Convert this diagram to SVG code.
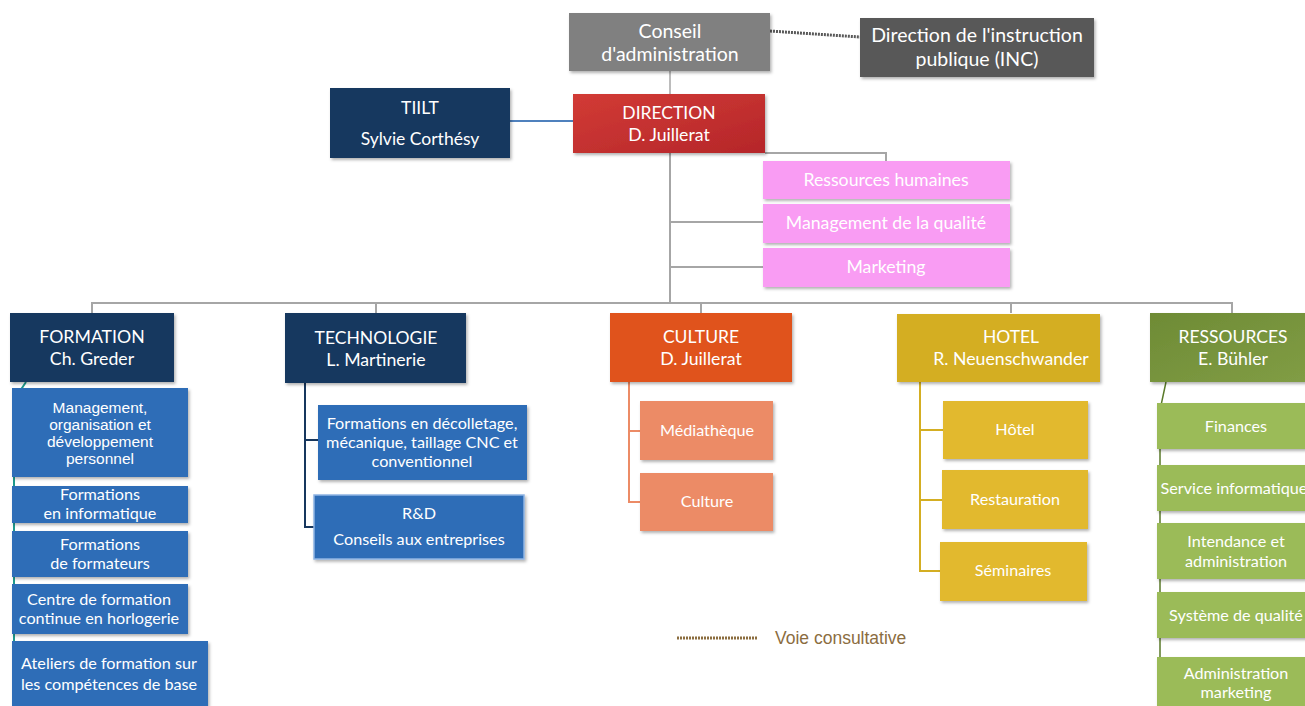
<svg xmlns="http://www.w3.org/2000/svg" width="1305" height="706" viewBox="0 0 1305 706">
<defs>
<filter id="sh" x="-10%" y="-10%" width="125%" height="135%">
<feDropShadow dx="1.5" dy="2" stdDeviation="1.5" flood-color="#000" flood-opacity="0.3"/>
</filter>
<linearGradient id="red" x1="0" y1="0" x2="1" y2="1">
<stop offset="0" stop-color="#d23b35"/><stop offset="1" stop-color="#b5262a"/>
</linearGradient>
<linearGradient id="grn" x1="0" y1="0" x2="1" y2="1">
<stop offset="0" stop-color="#6e8b35"/><stop offset="1" stop-color="#819d45"/>
</linearGradient>
</defs>
<style>
text{font-family:Lato,"Open Sans","Liberation Sans",sans-serif;fill:#fff;text-anchor:middle}
.b{filter:url(#sh)}
.t19{font-size:19.5px}
.h1{font-size:17.5px}
.h2{font-size:17.7px}
.s{font-size:16.2px}
.ar{font-family:"Liberation Sans",Arial,sans-serif;font-size:15.5px}
.gl{fill:none;stroke:#a6a6a6;stroke-width:2}
</style>
<rect width="1305" height="706" fill="#fff"/>

<g id="connectors">
<line x1="770" y1="31" x2="860" y2="37" stroke="#595959" stroke-width="3" stroke-dasharray="2,1"/>
<line x1="670" y1="71" x2="670" y2="94" stroke="#a6a6a6" stroke-width="1.5"/>
<line x1="510" y1="121" x2="573" y2="121" stroke="#4f81bd" stroke-width="2"/>
<path class="gl" d="M670 153 V303 M765 153 H886 V161 M670 222 H763 M670 267 H763"/>
<path class="gl" d="M92 313 V303 H1232 V313 M376 303 V313 M701 303 V313 M1011 303 V313"/>
<path d="M305 383 V527 H314 M305 440 H318" fill="none" stroke="#17375e" stroke-width="2"/>
<path d="M629 382 V502 H640 M629 431 H640" fill="none" stroke="#ec8b66" stroke-width="2"/>
<path d="M920 382 V571 H940 M920 430 H943 M920 500 H942" fill="none" stroke="#d4ae22" stroke-width="2"/>
<path d="M26 382 L14 400 V690 H16" fill="none" stroke="#1e9a8c" stroke-width="2"/>
<path d="M1166 382 L1160 410 V690" fill="none" stroke="#5a7a2a" stroke-width="1.5"/>
</g>

<g id="conseil"><rect class="b" x="569" y="13" width="201" height="58" fill="#808080"/>
<text class="t19" x="670" y="38">Conseil</text><text class="t19" x="670" y="61">d'administration</text></g>
<g id="inc"><rect class="b" x="860" y="18" width="234" height="59" fill="#595959"/>
<text class="t19" x="977" y="42">Direction de l'instruction</text><text class="t19" x="977" y="66">publique (INC)</text></g>
<g id="direction"><rect class="b" x="573" y="94" width="192" height="59" fill="url(#red)"/>
<text class="h1" x="669" y="119">DIRECTION</text><text class="h2" x="669" y="141">D. Juillerat</text></g>
<g id="tiilt"><rect class="b" x="330" y="88" width="180" height="70" fill="#17375e"/>
<text class="h1" x="420" y="114">TIILT</text><text class="h1" x="420" y="145">Sylvie Corthésy</text></g>

<g id="rh"><rect class="b" x="763" y="161" width="247" height="38" fill="#f99cf3"/><text class="h2" x="886" y="186">Ressources humaines</text></g>
<g id="mq"><rect class="b" x="763" y="204" width="247" height="39" fill="#f99cf3"/><text class="h2" x="886" y="229">Management de la qualité</text></g>
<g id="mkt"><rect class="b" x="763" y="248" width="247" height="39" fill="#f99cf3"/><text class="h2" x="886" y="273">Marketing</text></g>

<g id="formation"><rect class="b" x="10" y="313" width="164" height="69" fill="#17375e"/>
<text class="h2" x="92" y="343">FORMATION</text><text class="h2" x="92" y="365">Ch. Greder</text></g>
<g id="f1"><rect class="b" x="12" y="388" width="176" height="89" fill="#2e6db7"/>
<text class="ar" x="100" y="413">Management,</text><text class="ar" x="100" y="430">organisation et</text><text class="ar" x="100" y="447">développement</text><text class="ar" x="100" y="464">personnel</text></g>
<g id="f2"><rect class="b" x="12" y="486" width="176" height="37" fill="#2e6db7"/>
<text class="s" x="100" y="500">Formations</text><text class="s" x="100" y="519">en informatique</text></g>
<g id="f3"><rect class="b" x="12" y="531" width="176" height="46" fill="#2e6db7"/>
<text class="s" x="100" y="550">Formations</text><text class="s" x="100" y="569">de formateurs</text></g>
<g id="f4"><rect class="b" x="12" y="584" width="176" height="50" fill="#2e6db7"/>
<text class="s" x="99" y="605">Centre de formation</text><text class="s" x="99" y="624">continue en horlogerie</text></g>
<g id="f5"><rect class="b" x="12" y="641" width="196" height="65" fill="#2e6db7"/>
<text class="s" x="109" y="669">Ateliers de formation sur</text><text class="s" x="109" y="690">les compétences de base</text></g>

<g id="technologie"><rect class="b" x="285" y="313" width="181" height="70" fill="#17375e"/>
<text class="h1" x="376" y="344">TECHNOLOGIE</text><text class="h2" x="376" y="366">L. Martinerie</text></g>
<g id="t1"><rect class="b" x="318" y="405" width="209" height="75" fill="#2e6db7"/>
<text class="s" x="422" y="429">Formations en décolletage,</text><text class="s" x="422" y="448">mécanique, taillage CNC et</text><text class="s" x="422" y="467">conventionnel</text></g>
<g id="t2"><rect class="b" x="314" y="495" width="210" height="64" fill="#2e6db7" stroke="#8fb4e3" stroke-width="1.5"/>
<text class="s" x="419" y="519">R&amp;D</text><text class="s" x="419" y="545">Conseils aux entreprises</text></g>

<g id="culture"><rect class="b" x="610" y="313" width="182" height="69" fill="#e0531c"/>
<text class="h1" x="701" y="343">CULTURE</text><text class="h2" x="701" y="365">D. Juillerat</text></g>
<g id="c1"><rect class="b" x="640" y="401" width="133" height="59" fill="#ec8b66"/><text class="s" x="707" y="436">Médiathèque</text></g>
<g id="c2"><rect class="b" x="640" y="473" width="133" height="58" fill="#ec8b66"/><text class="s" x="707" y="507">Culture</text></g>

<g id="hotel"><rect class="b" x="897" y="314" width="203" height="68" fill="#d4ae22"/>
<text class="h1" x="1011" y="343">HOTEL</text><text class="h2" x="1011" y="365">R. Neuenschwander</text></g>
<g id="h1"><rect class="b" x="943" y="401" width="145" height="58" fill="#e2b92e"/><text class="s" x="1015" y="435">Hôtel</text></g>
<g id="h2"><rect class="b" x="942" y="470" width="146" height="59" fill="#e2b92e"/><text class="s" x="1015" y="505">Restauration</text></g>
<g id="h3"><rect class="b" x="940" y="542" width="147" height="59" fill="#e2b92e"/><text class="s" x="1013" y="576">Séminaires</text></g>

<g id="ressources"><rect class="b" x="1150" y="313" width="160" height="69" fill="url(#grn)"/>
<text class="h1" x="1233" y="343">RESSOURCES</text><text class="h2" x="1233" y="365">E. Bühler</text></g>
<g id="r1"><rect class="b" x="1157" y="403" width="150" height="46" fill="#9bbb59"/><text class="s" x="1236" y="432">Finances</text></g>
<g id="r2"><rect class="b" x="1157" y="465" width="150" height="46" fill="#9bbb59"/><text class="s" x="1234" y="494">Service informatique</text></g>
<g id="r3"><rect class="b" x="1157" y="523" width="150" height="56" fill="#9bbb59"/><text class="s" x="1236" y="547">Intendance et</text><text class="s" x="1236" y="567">administration</text></g>
<g id="r4"><rect class="b" x="1157" y="592" width="150" height="46" fill="#9bbb59"/><text class="s" x="1236" y="621">Système de qualité</text></g>
<g id="r5"><rect class="b" x="1157" y="657" width="150" height="49" fill="#9bbb59"/><text class="s" x="1236" y="679">Administration</text><text class="s" x="1236" y="698">marketing</text></g>

<g id="legend">
<line x1="677" y1="638" x2="757" y2="638" stroke="#8b6d3f" stroke-width="3" stroke-dasharray="2,1"/>
<text x="775" y="644" style="font-family:'Liberation Sans',Arial,sans-serif;font-size:17.5px;fill:#8b6d3f;text-anchor:start">Voie consultative</text>
</g>
</svg>
